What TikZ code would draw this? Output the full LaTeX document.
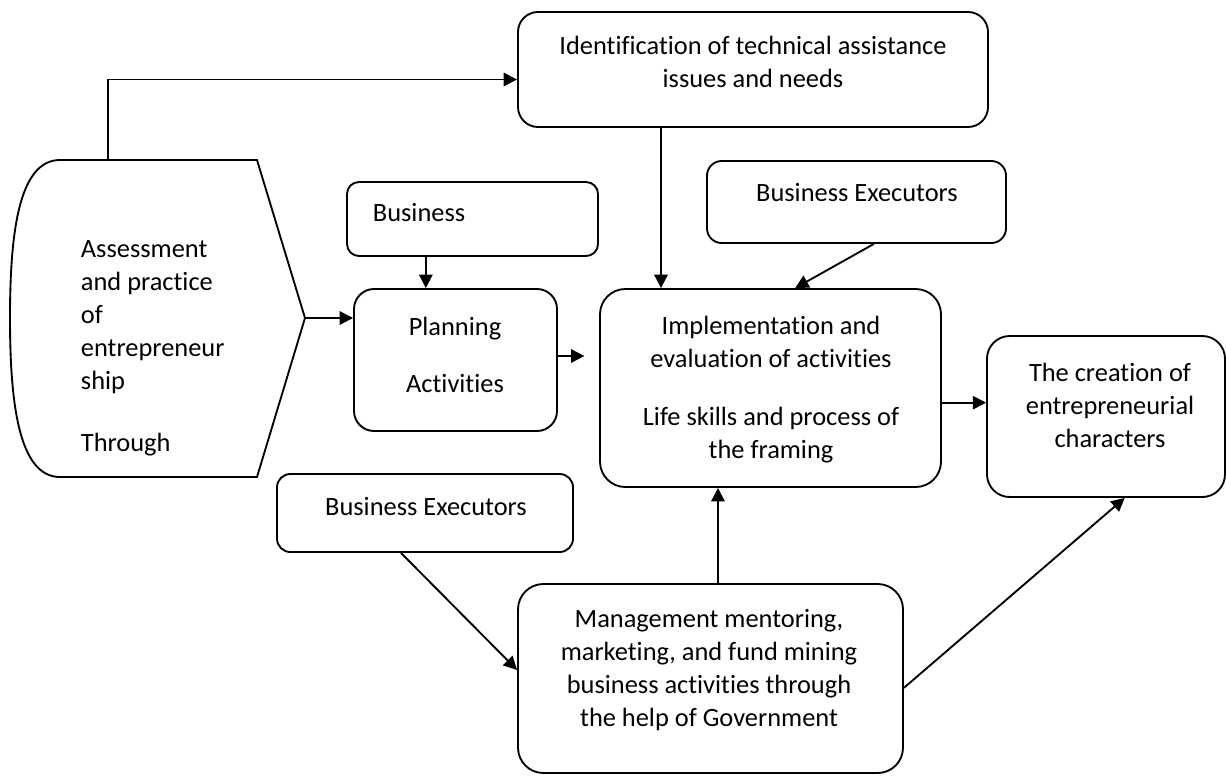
\documentclass[tikz,border=0pt]{standalone}
\usepackage{fontspec}
\setmainfont{Carlito}[Ligatures=CommonOff]
\usepackage{tikz}
\usetikzlibrary{arrows.meta}

\begin{document}
\begin{tikzpicture}[x=0.75pt, y=-0.75pt, line width=1.4pt,
    >={Triangle[length=10pt,width=10pt]},
    box/.style={draw, rounded corners=#1, inner sep=0pt},
    box/.default=15pt,
    txt/.style={font=\fontsize{19.8}{24.75}\selectfont, align=center, inner sep=0pt}]
  \useasboundingbox (0,0) rectangle (1226,775);
  \draw (60,160) -- (257,160) -- (305,318) -- (257,477) -- (60,477)
    .. controls (18,477) and (10,400) .. (10,318)
    .. controls (10,236) and (18,160) .. (60,160) -- cycle;
  \coordinate (assesstop) at (108,160);
  \coordinate (tip) at (305,318);
  \node[txt, align=left, anchor=west] (assesstxt) at (80,348.5)
    {Assessment\\and practice\\of\\entrepreneur\\ship\\[21.75pt]Through};
  \node[box, minimum width=352.5pt, minimum height=86.25pt] (ident) at (753,69.5) {};
  \node[txt] (identtxt) at (753,61.5) {Identification of technical assistance\\issues and needs};
  \node[box=11pt, minimum width=224.25pt, minimum height=61.5pt] (execone) at (856.5,202) {};
  \node[txt] (execonetxt) at (857,193) {Business Executors};
  \node[box=9pt, minimum width=188.25pt, minimum height=55.5pt] (business) at (472.5,219) {};
  \node[txt, anchor=west] (businesstxt) at (372,213) {Business};
  \node[box, minimum width=152.25pt, minimum height=106.5pt] (planning) at (455.5,360) {};
  \node[txt] (planningtxt) at (455,354.5) {Planning\\[18pt]Activities};
  \node[box=19pt, minimum width=255.75pt, minimum height=148.5pt] (implement) at (770.5,388) {};
  \node[txt] (implementtxt) at (771,389.5)
    {Implementation and\\evaluation of activities\\[18.75pt]Life skills and process of\\the framing};
  \node[box=17pt, minimum width=178.5pt, minimum height=120.75pt] (creation) at (1106,416.5) {};
  \node[txt] (creationtxt) at (1110,405.5) {The creation of\\entrepreneurial\\characters};
  \node[box=10pt, minimum width=222pt, minimum height=58.5pt] (exectwo) at (425,513) {};
  \node[txt] (exectwotxt) at (426,507) {Business Executors};
  \node[box=19pt, minimum width=288.75pt, minimum height=141.75pt] (mgmt) at (710.5,678.5) {};
  \node[txt] (mgmttxt) at (709,670.5)
    {Management mentoring,\\marketing, and fund mining\\business activities through\\the help of Government};
  \draw[->] (assesstop) |- ([yshift=-7.5pt]ident.west);
  \draw[->] ([xshift=-69pt]ident.south) -- ([xshift=-69pt]ident.south |- implement.north);
  \draw[->] ([xshift=13pt]execone.south) -- ([xshift=18.5pt]implement.north);
  \draw[->] ([xshift=-35pt]business.south) -- ([xshift=-35pt]business.south |- planning.north);
  \draw[->] (tip) -- (tip -| planning.west);
  \draw[->, shorten >=11pt] ([yshift=3pt]planning.east) -- ([yshift=3pt]planning.east -| implement.west);
  \draw[->] ([yshift=-11pt]implement.east) -- ([yshift=-11pt]implement.east -| creation.west);
  \draw[->] ([xshift=-18pt]exectwo.south) -- ([yshift=6.4pt]mgmt.west);
  \draw[->] ([xshift=5.6pt]mgmt.north) -- ([xshift=5.6pt]mgmt.north |- implement.south);
  \draw[->] ([yshift=-7pt]mgmt.east) -- ([xshift=14pt]creation.south);
\end{tikzpicture}
\end{document}
